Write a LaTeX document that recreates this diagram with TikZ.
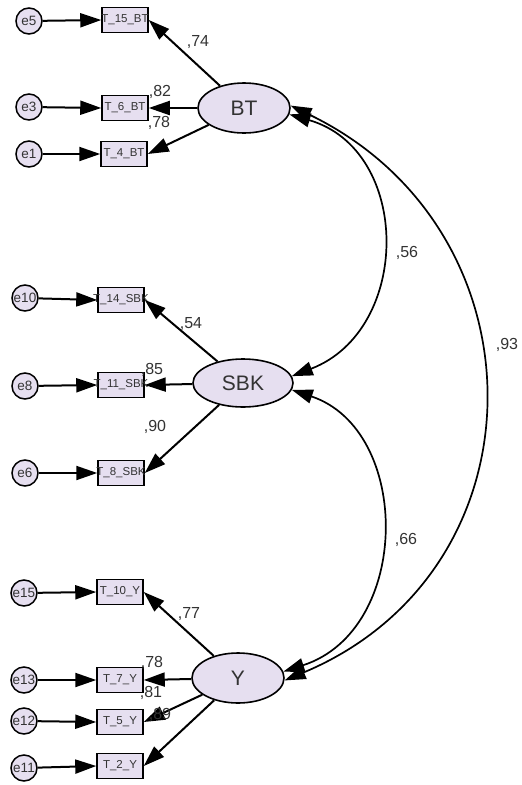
\documentclass[tikz,border=0pt]{standalone}
\usepackage{fontspec}
\setmainfont{Liberation Sans}
\usetikzlibrary{arrows.meta,shapes.geometric}
\definecolor{fillc}{HTML}{E6DFF0}
\definecolor{txt}{HTML}{333333}
\newcommand{\boxtxt}[1]{\makebox[0pt]{#1}}
\begin{document}
\begin{tikzpicture}[x=1pt,y=-1pt,
  lat/.style={ellipse,draw=black,line width=1.6pt,fill=fillc,minimum width=92pt,minimum height=50pt,inner sep=0pt,font=\fontsize{21}{21}\selectfont,text=txt},
  obs/.style={rectangle,draw=black,line width=1.5pt,fill=fillc,minimum width=46pt,minimum height=25pt,inner sep=0pt,font=\fontsize{11.5}{11.5}\selectfont,text=txt},
  err/.style={circle,draw=black,line width=1.5pt,fill=fillc,minimum size=26pt,inner sep=0pt,font=\fontsize{13.5}{13.5}\selectfont,text=txt},
  arr/.style={line width=2pt,-{Triangle[length=21pt,width=14pt]}},
  cov/.style={line width=1.7pt,{Triangle[length=21pt,width=14pt]}-{Triangle[length=21pt,width=14pt]}},
  lab/.style={font=\fontsize{16}{16}\selectfont,text=txt,inner sep=0pt}]
\useasboundingbox (0,0) rectangle (522,785);
% latent
\node[lat] (BT) at (244,108) {BT};
\node[lat,minimum width=100pt,minimum height=48pt] (SBK) at (243,383) {SBK};
\node[lat] (Y) at (238,678) {Y};
% observed
\node[obs] (T15) at (125,20) {\boxtxt{T\_15\_BT}};
\node[obs] (T6) at (125,108) {\boxtxt{T\_6\_BT}};
\node[obs] (T4) at (124,154) {\boxtxt{T\_4\_BT}};
\node[obs] (T14) at (121,300) {\boxtxt{T\_14\_SBK}};
\node[obs] (T11) at (121,385) {\boxtxt{T\_11\_SBK}};
\node[obs] (T8) at (121,473) {\boxtxt{T\_8\_SBK}};
\node[obs] (T10) at (120,592) {\boxtxt{T\_10\_Y}};
\node[obs] (T7) at (120,680) {\boxtxt{T\_7\_Y}};
\node[obs] (T5) at (120,722) {\boxtxt{T\_5\_Y}};
\node[obs] (T2) at (120,766) {\boxtxt{T\_2\_Y}};
% errors
\node[err] (e5) at (29,21) {e5};
\node[err] (e3) at (29,107) {e3};
\node[err] (e1) at (29,154) {e1};
\node[err] (e10) at (25,298) {e10};
\node[err] (e8) at (25,386) {e8};
\node[err] (e6) at (25,473) {e6};
\node[err] (e15) at (24,593) {e15};
\node[err] (e13) at (24,680) {e13};
\node[err] (e12) at (24,721) {e12};
\node[err] (e11) at (24,768) {e11};
% error arrows
\foreach \e/\t in {e5/T15,e3/T6,e1/T4,e10/T14,e8/T11,e6/T8,e15/T10,e13/T7,e12/T5,e11/T2}
  \draw[arr] (\e) -- (\t.west);
% loadings
\foreach \l/\t in {BT/T15,BT/T6,BT/T4,SBK/T14,SBK/T11,SBK/T8,Y/T10,Y/T7,Y/T5,Y/T2}
  \draw[arr] (\l) -- (\t.east);
% covariances
\draw[cov] (BT.-8) .. controls (412,150) and (412,330) .. (SBK.8);
\draw[cov] (SBK.-8) .. controls (412,430) and (412,630) .. (Y.8);
\draw[cov] (BT.3) .. controls (548,230) and (548,570) .. (Y.-3);
% labels
\node[lab] (l74) at (198,42) {,74};
\node[lab] (l82) at (160,92) {,82};
\node[lab] (l78) at (159,123) {,78};
\node[lab] (l56) at (407,253) {,56};
\node[lab] (l93) at (507,345) {,93};
\node[lab] (l54) at (191,324) {,54};
\node[lab] (l85) at (152,370) {,85};
\node[lab] (l90) at (155,427) {,90};
\node[lab] (l66) at (406,540) {,66};
\node[lab] (l77) at (189,614) {,77};
\node[lab] (l78y) at (152,663) {,78};
\node[lab] (l81) at (151,693) {,81};
\node[lab] (l89) at (160,715) {,89};
\end{tikzpicture}
\end{document}
